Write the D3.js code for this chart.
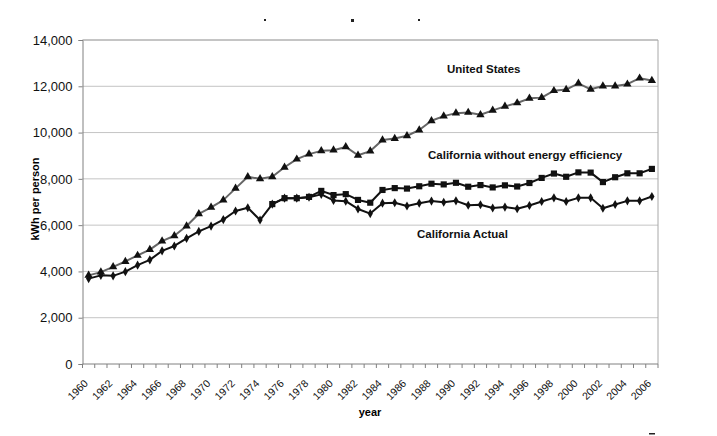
<!DOCTYPE html>
<html>
<head>
<meta charset="utf-8">
<script src="https://cdn.jsdelivr.net/npm/d3@7/dist/d3.min.js"></script>
<style>
  html, body { margin: 0; padding: 0; background: #fff; }
  svg { display: block; font-family: "Liberation Sans", Arial, sans-serif; }
</style>
</head>
<body>
<svg id="chart" width="717" height="436"></svg>
<script>
const years = [1960,1961,1962,1963,1964,1965,1966,1967,1968,1969,
               1970,1971,1972,1973,1974,1975,1976,1977,1978,1979,
               1980,1981,1982,1983,1984,1985,1986,1987,1988,1989,
               1990,1991,1992,1993,1994,1995,1996,1997,1998,1999,
               2000,2001,2002,2003,2004,2005,2006];

const usValues = [3830,3970,4200,4430,4690,4940,5310,5540,5960,6490,
                  6770,7080,7590,8090,8000,8090,8500,8850,9070,9210,
                  9240,9380,9020,9200,9680,9740,9860,10110,10510,10710,
                  10840,10870,10770,10960,11130,11280,11480,11510,11810,11860,
                  12130,11870,12010,12010,12090,12350,12250];

const caWithoutEE = [null,null,null,null,null,null,null,null,null,null,
                     null,null,null,null,null,6910,7165,7165,7220,7480,
                     7300,7340,7090,6970,7520,7600,7580,7680,7790,7760,
                     7830,7660,7730,7630,7720,7670,7820,8040,8230,8090,
                     8280,8270,7860,8070,8240,8240,8430];

const caActual = [3690,3830,3810,3990,4270,4500,4890,5100,5430,5730,
                  5960,6240,6610,6750,6220,6910,7165,7165,7205,7330,
                  7070,7035,6700,6500,6950,6965,6830,6950,7040,6990,
                  7050,6860,6880,6740,6780,6710,6850,7020,7180,7020,
                  7180,7180,6730,6890,7050,7050,7240];

const yTicks = [0,2000,4000,6000,8000,10000,12000,14000];
const xTickLabels = [1960,1962,1964,1966,1968,1970,1972,1974,1976,1978,1980,1982,
                     1984,1986,1988,1990,1992,1994,1996,1998,2000,2002,2004,2006];

const seriesLabels = ["United States", "California without energy efficiency", "California Actual"];

(function () {
const svg = d3.select("#chart");
const pL = 82.5, pR = 658, pT = 40, pB = 364;

const x = d3.scaleBand().domain(years).range([pL, pR]).paddingInner(0).paddingOuter(0);
const y = d3.scaleLinear().domain([0, 14000]).range([pB, pT]);
const cx = d => x(d) + x.bandwidth() / 2;

// gridlines
svg.append("g").selectAll("line").data(yTicks.filter(t => t > 0)).join("line")
  .attr("x1", pL).attr("x2", pR)
  .attr("y1", d => y(d)).attr("y2", d => y(d))
  .attr("stroke", "#c4c4c4").attr("stroke-width", 1);

// plot border (top/right)
svg.append("path")
  .attr("d", `M${pL},${pT}H${pR}V${pB}`)
  .attr("fill", "none").attr("stroke", "#a8a8a8").attr("stroke-width", 1);

// y axis
const yAxis = svg.append("g").attr("transform", `translate(${pL},0)`)
  .call(d3.axisLeft(y).tickValues(yTicks).tickSize(4).tickPadding(6).tickFormat(d3.format(",")));
yAxis.select(".domain").attr("stroke", "#808080");
yAxis.selectAll(".tick line").attr("stroke", "#808080");
yAxis.selectAll(".tick text").attr("font-size", "13px").attr("fill", "#111")
  .attr("font-family", "'Liberation Sans', Arial, sans-serif");

// x axis line
svg.append("line").attr("x1", pL).attr("x2", pR).attr("y1", pB).attr("y2", pB)
  .attr("stroke", "#808080").attr("stroke-width", 1);
// tick marks at category boundaries
const bounds = years.map(d => x(d)).concat([pR]);
svg.append("g").selectAll("line").data(bounds).join("line")
  .attr("x1", d => d).attr("x2", d => d).attr("y1", pB).attr("y2", pB + 4)
  .attr("stroke", "#808080").attr("stroke-width", 1);
// x tick labels
svg.append("g").selectAll("text").data(xTickLabels).join("text")
  .attr("transform", d => `translate(${cx(d)},384) rotate(-45)`)
  .attr("text-anchor", "end")
  .attr("font-size", "10.5px").attr("fill", "#111")
  .text(d => d);

// axis titles
svg.append("text").attr("x", 370).attr("y", 416).attr("text-anchor", "middle")
  .attr("font-size", "11px").attr("font-weight", "bold").text("year");
svg.append("text").attr("transform", "translate(39,199) rotate(-90)").attr("text-anchor", "middle")
  .attr("font-size", "11px").attr("font-weight", "bold").text("kWh per person");

// lines
const line = d3.line().defined(d => d[1] != null).x(d => cx(d[0])).y(d => y(d[1]));
const zip = vals => years.map((yr, i) => [yr, vals[i]]);

svg.append("path").datum(zip(usValues)).attr("d", line)
  .attr("fill", "none").attr("stroke", "#666").attr("stroke-width", 2).attr("stroke-linejoin", "round");
svg.append("path").datum(zip(caWithoutEE)).attr("d", line)
  .attr("fill", "none").attr("stroke", "#111").attr("stroke-width", 2).attr("stroke-linejoin", "round");
svg.append("path").datum(zip(caActual)).attr("d", line)
  .attr("fill", "none").attr("stroke", "#111").attr("stroke-width", 2).attr("stroke-linejoin", "round");

// markers
const tri = d3.symbol().type(d3.symbolTriangle).size(30);
const sq = d3.symbol().type(d3.symbolSquare).size(38);
const dia = d3.symbol().type(d3.symbolDiamond).size(24);

svg.append("g").selectAll("path").data(zip(usValues)).join("path")
  .attr("transform", d => `translate(${cx(d[0])},${y(d[1])})`)
  .attr("d", tri).attr("fill", "#111");
svg.append("g").selectAll("path").data(zip(caWithoutEE).filter(d => d[1] != null)).join("path")
  .attr("transform", d => `translate(${cx(d[0])},${y(d[1])})`)
  .attr("d", sq).attr("fill", "#111");
svg.append("g").selectAll("path").data(zip(caActual)).join("path")
  .attr("transform", d => `translate(${cx(d[0])},${y(d[1])})`)
  .attr("d", dia).attr("fill", "#111");

// series annotations
const ann = svg.append("g").attr("font-size", "11.5px").attr("font-weight", "bold").attr("fill", "#111");
ann.append("text").attr("x", 447).attr("y", 73).text(seriesLabels[0]);
ann.append("text").attr("x", 428).attr("y", 159).text(seriesLabels[1]);
ann.append("text").attr("x", 417).attr("y", 238).text(seriesLabels[2]);

// remnants of a cropped title and a stray mark
const marks = svg.append("g").attr("fill", "#222");
marks.append("rect").attr("x", 264).attr("y", 19).attr("width", 2).attr("height", 2);
marks.append("rect").attr("x", 351).attr("y", 19).attr("width", 3).attr("height", 3);
marks.append("rect").attr("x", 418).attr("y", 19).attr("width", 2).attr("height", 2);
marks.append("rect").attr("x", 649).attr("y", 433).attr("width", 6).attr("height", 1.5);
})();
</script>
</body>
</html>
